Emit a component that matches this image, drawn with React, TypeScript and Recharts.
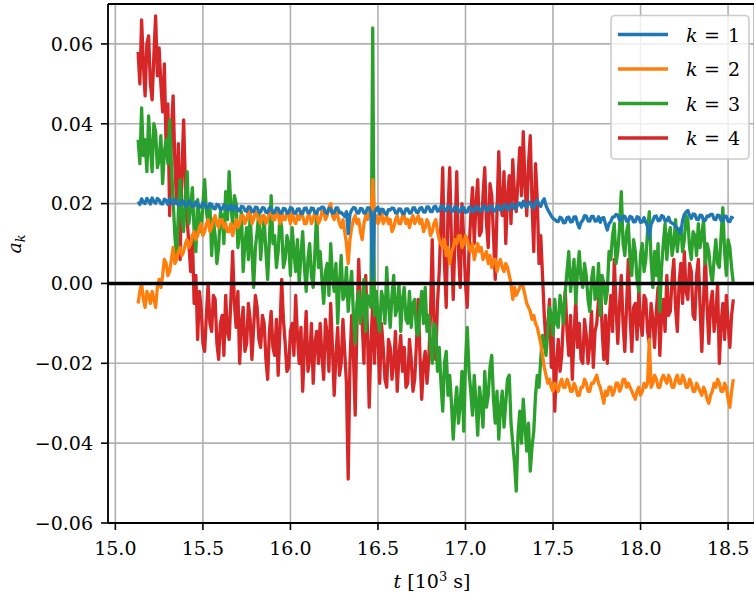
import { CartesianGrid, Customized, Line, LineChart, ReferenceLine, XAxis, YAxis } from "recharts";

// every series is sampled on the same time grid, in 10^3 s
const T0 = 15.13;
const DT = 0.01;

const X_TICKS = [15, 15.5, 16, 16.5, 17, 17.5, 18, 18.5];
const Y_TICKS = [-0.06, -0.04, -0.02, 0, 0.02, 0.04, 0.06];

const k1 = [
    0.0205, 0.0198, 0.0212, 0.0203, 0.0200, 0.0213, 0.0207, 0.0199, 0.0214, 0.0205, 0.0201, 0.0213, 0.0209, 0.0200, 0.0199, 0.0211, 0.0208, 0.0198, 0.0212, 0.0204,
    0.0199, 0.0210, 0.0206, 0.0196, 0.0198, 0.0208, 0.0205, 0.0194, 0.0196, 0.0206, 0.0204, 0.0193, 0.0194, 0.0204, 0.0201, 0.0191, 0.0192, 0.0202, 0.0200, 0.0190,
    0.0189, 0.0200, 0.0198, 0.0188, 0.0187, 0.0198, 0.0196, 0.0185, 0.0186, 0.0197, 0.0195, 0.0184, 0.0187, 0.0196, 0.0183, 0.0193, 0.0194, 0.0183, 0.0182, 0.0193,
    0.0192, 0.0183, 0.0181, 0.0192, 0.0191, 0.0180, 0.0180, 0.0191, 0.0190, 0.0179, 0.0179, 0.0190, 0.0189, 0.0178, 0.0178, 0.0189, 0.0188, 0.0177, 0.0178, 0.0189,
    0.0188, 0.0177, 0.0176, 0.0188, 0.0187, 0.0176, 0.0177, 0.0190, 0.0188, 0.0177, 0.0175, 0.0186, 0.0187, 0.0175, 0.0176, 0.0188, 0.0189, 0.0177, 0.0177, 0.0189,
    0.0188, 0.0177, 0.0175, 0.0187, 0.0186, 0.0191, 0.0190, 0.0178, 0.0176, 0.0188, 0.0187, 0.0176, 0.0177, 0.0189, 0.0189, 0.0177, 0.0178, 0.0173, 0.0168, 0.0180,
    0.0125, 0.0174, 0.0184, 0.0190, 0.0189, 0.0177, 0.0176, 0.0188, 0.0187, 0.0176, 0.0177, 0.0189, 0.0189, 0.0178, 0.0013, 0.0177, 0.0186, 0.0191, 0.0174, 0.0186,
    0.0185, 0.0175, 0.0173, 0.0185, 0.0184, 0.0189, 0.0188, 0.0177, 0.0176, 0.0187, 0.0186, 0.0175, 0.0175, 0.0187, 0.0187, 0.0176, 0.0177, 0.0189, 0.0189, 0.0178,
    0.0178, 0.0189, 0.0190, 0.0179, 0.0179, 0.0192, 0.0191, 0.0180, 0.0180, 0.0192, 0.0193, 0.0181, 0.0183, 0.0194, 0.0195, 0.0183, 0.0182, 0.0194, 0.0193, 0.0181,
    0.0181, 0.0193, 0.0192, 0.0180, 0.0180, 0.0191, 0.0190, 0.0178, 0.0179, 0.0191, 0.0191, 0.0180, 0.0181, 0.0193, 0.0192, 0.0181, 0.0182, 0.0193, 0.0194, 0.0182,
    0.0183, 0.0194, 0.0193, 0.0181, 0.0182, 0.0194, 0.0195, 0.0183, 0.0185, 0.0196, 0.0197, 0.0185, 0.0186, 0.0198, 0.0199, 0.0187, 0.0188, 0.0200, 0.0201, 0.0191,
    0.0206, 0.0195, 0.0191, 0.0204, 0.0203, 0.0192, 0.0189, 0.0202, 0.0209, 0.0198, 0.0193, 0.0206, 0.0212, 0.0195, 0.0185, 0.0177, 0.0169, 0.0163, 0.0160, 0.0156,
    0.0155, 0.0166, 0.0163, 0.0152, 0.0153, 0.0165, 0.0166, 0.0154, 0.0155, 0.0167, 0.0167, 0.0150, 0.0139, 0.0153, 0.0158, 0.0170, 0.0169, 0.0157, 0.0156, 0.0168,
    0.0168, 0.0156, 0.0157, 0.0167, 0.0153, 0.0164, 0.0165, 0.0148, 0.0134, 0.0150, 0.0155, 0.0166, 0.0167, 0.0173, 0.0171, 0.0159, 0.0157, 0.0169, 0.0168, 0.0156,
    0.0156, 0.0168, 0.0166, 0.0154, 0.0155, 0.0167, 0.0165, 0.0153, 0.0154, 0.0165, 0.0153, 0.0143, 0.0114, 0.0148, 0.0157, 0.0168, 0.0169, 0.0157, 0.0158, 0.0170,
    0.0168, 0.0156, 0.0157, 0.0166, 0.0154, 0.0151, 0.0149, 0.0143, 0.0138, 0.0131, 0.0126, 0.0158, 0.0173, 0.0179, 0.0183, 0.0170, 0.0163, 0.0174, 0.0173, 0.0161,
    0.0160, 0.0171, 0.0170, 0.0158, 0.0158, 0.0169, 0.0168, 0.0173, 0.0173, 0.0161, 0.0160, 0.0171, 0.0170, 0.0158, 0.0157, 0.0169, 0.0168, 0.0156, 0.0155, 0.0166, 0.0162,
];

const k2 = [
    -0.005, -0.002, 0.000, -0.004, -0.006, -0.002, -0.003, -0.005, -0.002, -0.004, -0.006, -0.001, 0.001, -0.001, 0.002, 0.006, 0.005, 0.002, 0.003, 0.006,
    0.009, 0.005, 0.006, 0.008, 0.009, 0.007, 0.008, 0.010, 0.011, 0.009, 0.010, 0.012, 0.013, 0.011, 0.012, 0.014, 0.015, 0.012, 0.013, 0.015,
    0.016, 0.013, 0.014, 0.016, 0.017, 0.015, 0.014, 0.016, 0.016, 0.014, 0.015, 0.013, 0.013, 0.015, 0.012, 0.014, 0.016, 0.014, 0.015, 0.017,
    0.017, 0.015, 0.016, 0.018, 0.018, 0.015, 0.016, 0.018, 0.017, 0.016, 0.015, 0.017, 0.017, 0.015, 0.016, 0.018, 0.018, 0.016, 0.016, 0.018,
    0.017, 0.015, 0.018, 0.016, 0.016, 0.018, 0.017, 0.015, 0.018, 0.016, 0.015, 0.017, 0.016, 0.018, 0.017, 0.015, 0.015, 0.017, 0.017, 0.015,
    0.016, 0.018, 0.017, 0.015, 0.016, 0.018, 0.018, 0.016, 0.017, 0.019, 0.020, 0.017, 0.016, 0.018, 0.017, 0.015, 0.014, 0.016, 0.013, 0.010,
    0.005, 0.011, 0.014, 0.016, 0.017, 0.015, 0.016, 0.013, 0.011, 0.015, 0.017, 0.016, 0.018, 0.017, 0.026, 0.016, 0.017, 0.015, 0.016, 0.018,
    0.015, 0.016, 0.017, 0.015, 0.016, 0.013, 0.014, 0.016, 0.017, 0.015, 0.015, 0.017, 0.017, 0.015, 0.016, 0.014, 0.016, 0.017, 0.015, 0.016,
    0.017, 0.015, 0.016, 0.013, 0.014, 0.016, 0.015, 0.012, 0.013, 0.015, 0.016, 0.013, 0.011, 0.010, 0.009, 0.011, 0.007, 0.009, 0.005, 0.008,
    0.009, 0.011, 0.010, 0.012, 0.012, 0.009, 0.010, 0.012, 0.011, 0.009, 0.008, 0.010, 0.006, 0.008, 0.010, 0.008, 0.009, 0.006, 0.007, 0.008,
    0.005, 0.007, 0.004, 0.006, 0.006, 0.003, 0.005, 0.006, 0.004, 0.003, 0.005, 0.004, 0.002, 0.000, -0.004, -0.001, -0.003, -0.002, -0.001, 0.000,
    -0.001, -0.003, -0.005, -0.006, -0.007, -0.009, -0.008, -0.010, -0.011, -0.013, -0.015, -0.018, -0.021, -0.023, -0.025, -0.024, -0.026, -0.027, -0.025, -0.026,
    -0.027, -0.025, -0.024, -0.026, -0.026, -0.024, -0.025, -0.027, -0.027, -0.025, -0.026, -0.028, -0.028, -0.026, -0.026, -0.024, -0.025, -0.027, -0.027, -0.025,
    -0.025, -0.024, -0.023, -0.025, -0.026, -0.028, -0.030, -0.027, -0.028, -0.026, -0.026, -0.028, -0.027, -0.025, -0.025, -0.027, -0.026, -0.024, -0.024, -0.026,
    -0.025, -0.026, -0.027, -0.028, -0.029, -0.027, -0.026, -0.028, -0.027, -0.025, -0.026, -0.025, -0.014, -0.026, -0.025, -0.023, -0.024, -0.026, -0.026, -0.024,
    -0.023, -0.024, -0.025, -0.023, -0.024, -0.026, -0.026, -0.024, -0.023, -0.025, -0.025, -0.023, -0.024, -0.026, -0.026, -0.024, -0.025, -0.027, -0.027, -0.025,
    -0.026, -0.027, -0.028, -0.026, -0.027, -0.029, -0.030, -0.028, -0.027, -0.025, -0.026, -0.024, -0.025, -0.027, -0.027, -0.025, -0.026, -0.029, -0.031, -0.027, -0.024,
];

const k3 = [
    0.036, 0.030, 0.044, 0.032, 0.036, 0.028, 0.042, 0.034, 0.028, 0.040, 0.038, 0.029, 0.031, 0.037, 0.025, 0.033, 0.036, 0.030, 0.041, 0.030,
    0.021, 0.012, 0.006, 0.018, 0.026, 0.016, 0.013, 0.022, 0.028, 0.015, 0.019, 0.024, 0.013, 0.008, 0.021, 0.016, 0.013, 0.020, 0.026, 0.018,
    0.015, 0.020, 0.007, 0.016, 0.012, 0.005, 0.009, 0.018, 0.017, 0.010, 0.023, 0.016, 0.028, 0.019, 0.015, 0.022, 0.020, 0.009, 0.013, 0.018,
    0.003, 0.010, 0.014, 0.006, 0.017, 0.008, -0.001, 0.009, 0.013, 0.018, 0.006, 0.012, 0.016, 0.008, 0.001, 0.011, 0.022, 0.010, 0.012, 0.004,
    0.008, 0.017, 0.014, 0.004, 0.006, 0.012, 0.010, 0.002, 0.014, 0.008, 0.003, 0.011, 0.000, 0.007, 0.013, 0.004, -0.002, 0.006, 0.010, 0.002,
    -0.001, 0.008, 0.018, 0.004, 0.008, 0.001, -0.005, 0.003, 0.005, -0.003, 0.010, 0.002, -0.002, 0.005, -0.010, 0.000, 0.007, -0.004, -0.003, 0.004,
    -0.007, -0.001, 0.003, -0.008, -0.015, -0.005, -0.002, -0.010, -0.006, 0.001, -0.012, -0.003, -0.004, -0.006, 0.064, -0.008, -0.002, -0.009, -0.012, -0.002,
    -0.004, -0.010, 0.004, -0.005, -0.011, -0.003, 0.002, -0.008, -0.006, 0.000, -0.012, -0.004, -0.001, -0.009, -0.010, -0.002, -0.011, -0.005, -0.004, -0.012,
    -0.013, -0.006, -0.002, -0.010, -0.001, -0.012, -0.008, -0.016, -0.020, -0.010, -0.011, -0.022, -0.016, -0.025, -0.032, -0.020, -0.017, -0.028, -0.023, -0.030,
    -0.039, -0.031, -0.026, -0.035, -0.030, -0.022, -0.037, -0.020, -0.011, -0.022, -0.027, -0.033, -0.023, -0.030, -0.038, -0.026, -0.030, -0.036, -0.022, -0.031,
    -0.028, -0.021, -0.018, -0.029, -0.035, -0.027, -0.039, -0.031, -0.027, -0.036, -0.030, -0.024, -0.023, -0.035, -0.040, -0.045, -0.052, -0.038, -0.032, -0.040,
    -0.029, -0.036, -0.042, -0.035, -0.047, -0.041, -0.037, -0.028, -0.023, -0.026, -0.019, -0.013, -0.015, -0.018, -0.012, -0.006, -0.008, -0.013, -0.004, -0.010,
    -0.011, -0.003, -0.006, -0.010, -0.002, 0.003, 0.008, -0.002, 0.002, 0.006, -0.005, 0.003, 0.008, 0.001, -0.001, 0.005, 0.002, -0.004, -0.007, 0.001,
    0.004, -0.004, -0.003, 0.005, -0.008, 0.002, 0.000, -0.005, -0.002, 0.008, 0.006, 0.012, 0.015, 0.005, 0.008, 0.014, 0.023, 0.010, 0.007, 0.013,
    0.015, 0.006, 0.002, 0.011, 0.008, 0.001, -0.002, 0.007, 0.010, 0.003, 0.006, 0.013, 0.018, 0.006, -0.001, 0.008, 0.002, 0.010, -0.007, 0.004,
    0.010, 0.015, 0.006, 0.012, 0.014, 0.007, 0.010, 0.016, 0.008, 0.013, 0.014, 0.008, 0.011, 0.017, 0.016, 0.009, 0.006, 0.013, 0.012, 0.007,
    0.015, 0.009, 0.012, 0.016, 0.005, 0.010, 0.008, 0.003, 0.000, 0.006, 0.011, 0.005, 0.004, 0.012, 0.019, 0.008, 0.002, 0.011, 0.009, 0.004, 0.000,
];

const k4 = [
    0.058, 0.050, 0.066, 0.055, 0.047, 0.060, 0.062, 0.050, 0.046, 0.057, 0.067, 0.052, 0.059, 0.050, 0.043, 0.055, 0.034, 0.045, 0.017, 0.038,
    0.047, 0.030, 0.020, 0.035, 0.006, 0.028, 0.041, 0.025, 0.016, 0.010, 0.003, 0.012, -0.005, 0.002, -0.014, -0.002, -0.006, -0.015, -0.017, -0.008,
    0.000, -0.010, -0.012, -0.003, -0.004, -0.015, -0.019, -0.010, -0.008, -0.018, -0.003, -0.012, -0.014, -0.004, 0.008, -0.005, -0.011, -0.002, -0.020, -0.010,
    -0.006, -0.017, -0.015, -0.005, -0.009, -0.019, -0.011, -0.003, -0.006, -0.014, -0.016, -0.008, -0.010, -0.019, -0.024, -0.012, -0.007, -0.016, -0.018, -0.009,
    -0.023, -0.012, 0.001, -0.009, -0.015, -0.022, -0.021, -0.012, -0.010, -0.018, -0.003, -0.013, -0.020, -0.011, -0.027, -0.016, -0.007, -0.022, -0.019, -0.010,
    -0.025, -0.015, -0.012, -0.020, -0.010, -0.018, -0.024, -0.009, -0.013, -0.022, -0.005, -0.016, -0.028, -0.018, -0.011, -0.023, -0.020, -0.009, -0.017, -0.025,
    -0.049, -0.020, -0.008, -0.018, -0.033, -0.010, 0.006, -0.006, -0.010, -0.020, 0.002, -0.012, -0.031, -0.015, -0.005, -0.020, -0.002, -0.014, -0.025, -0.010,
    -0.016, -0.024, -0.026, -0.014, -0.016, -0.024, -0.020, -0.012, -0.027, -0.018, -0.013, -0.022, -0.016, -0.026, -0.025, -0.014, -0.019, -0.027, -0.024, -0.015,
    -0.004, -0.018, -0.029, -0.020, -0.017, -0.025, -0.019, -0.008, 0.011, -0.010, -0.019, -0.005, 0.003, 0.015, 0.029, 0.005, -0.006, 0.018, 0.029, 0.010,
    -0.004, 0.012, 0.028, 0.008, -0.001, 0.020, 0.011, 0.000, -0.006, 0.008, 0.017, 0.024, 0.010, 0.020, 0.026, 0.012, 0.013, 0.022, 0.029, 0.015,
    0.009, 0.025, 0.022, 0.012, 0.001, 0.018, 0.033, 0.020, 0.017, 0.028, 0.010, 0.022, 0.027, 0.015, 0.031, 0.022, 0.018, 0.026, 0.034, 0.022,
    0.038, 0.025, 0.017, 0.030, 0.037, 0.020, 0.008, 0.030, 0.021, 0.005, 0.012, 0.002, -0.008, -0.015, -0.011, -0.004, -0.021, -0.012, -0.032, -0.020,
    -0.014, -0.022, -0.018, -0.008, -0.002, -0.012, -0.018, -0.008, -0.024, -0.013, -0.004, -0.016, -0.010, -0.019, -0.020, -0.009, -0.013, -0.020, -0.015, -0.007,
    -0.021, -0.012, -0.010, -0.004, 0.002, -0.011, -0.019, -0.008, -0.020, -0.010, -0.003, -0.012, 0.006, -0.006, -0.015, -0.005, 0.002, -0.010, -0.017, -0.006,
    0.006, -0.008, -0.017, -0.006, -0.005, -0.014, -0.002, -0.010, -0.013, -0.003, -0.004, -0.012, -0.015, -0.005, -0.009, -0.016, -0.007, -0.001, -0.018, -0.008,
    -0.004, -0.012, 0.002, -0.008, -0.007, 0.001, 0.006, -0.006, -0.012, 0.000, 0.005, -0.005, 0.008, -0.002, -0.004, 0.005, 0.003, -0.008, -0.009, 0.002,
    0.006, -0.006, -0.017, -0.004, 0.008, -0.006, -0.015, -0.005, -0.002, -0.012, -0.008, 0.000, -0.020, -0.010, -0.005, -0.014, -0.003, -0.010, -0.016, -0.008, -0.004,
];

const toPoints = (values: number[]) => values.map((v, i) => ({ t: +(T0 + i * DT).toFixed(2), v }));

const FONT = "DejaVu Serif";
const FS = 19;
const COLORS = { k1: "#1f77b4", k2: "#ff7f0e", k3: "#2ca02c", k4: "#d62728" };

// drawn back to front: k = 4 lowest, k = 1 on top
const SERIES = [
    { key: "k4", values: k4, color: COLORS.k4 },
    { key: "k3", values: k3, color: COLORS.k3 },
    { key: "k2", values: k2, color: COLORS.k2 },
    { key: "k1", values: k1, color: COLORS.k1 },
];

const LEGEND = [
    { label: "1", color: COLORS.k1 },
    { label: "2", color: COLORS.k2 },
    { label: "3", color: COLORS.k3 },
    { label: "4", color: COLORS.k4 },
];

const formatY = (v: number) => (v < 0 ? "\u2212" : "") + Math.abs(v).toFixed(2);

function Decorations() {
    const txt = { fontFamily: FONT };
    return (
        <g fill="#000">
            {/* axis titles */}
            <text x={432} y={588} textAnchor="middle" fontSize={FS} style={txt}>
                <tspan fontStyle="italic">t</tspan>
                <tspan> [10</tspan>
                <tspan fontSize={13} dy={-7}>3</tspan>
                <tspan dy={7}> s]</tspan>
            </text>
            <text transform="translate(21,244) rotate(-90)" textAnchor="middle" fontSize={FS} style={txt}>
                <tspan fontStyle="italic">a</tspan>
                <tspan fontStyle="italic" fontSize={13} dy={4}>k</tspan>
            </text>

            {/* legend */}
            <rect x={611} y={15.5} width={138} height={143.5} rx={4} fill="#fff" fillOpacity={0.8} stroke="#cccccc" strokeWidth={1.6} />
            {LEGEND.map((item, i) => {
                const y = 34.5 + i * 34.5;
                return (
                    <g key={item.label}>
                        <line x1={618} x2={668} y1={y} y2={y} stroke={item.color} strokeWidth={3.3} />
                        <text x={686} y={y + 7} fontSize={FS} fontStyle="italic" style={txt}>k</text>
                        <text x={712} y={y + 7} fontSize={FS} textAnchor="middle" style={txt}>=</text>
                        <text x={734} y={y + 7} fontSize={FS} textAnchor="middle" style={txt}>{item.label}</text>
                    </g>
                );
            })}
        </g>
    );
}

export default function App() {
    const tick = { fill: "#000", fontSize: FS, style: { fontFamily: FONT } };
    const spine = { stroke: "#000", strokeWidth: 1.8 };
    const tickLine = { stroke: "#000", strokeWidth: 1.6 };

    return (
        <div style={{ position: "absolute", left: 0, top: 0, width: 754, height: 596, background: "#fff" }}>
            <LineChart width={754} height={596} margin={{ top: 4, right: 0, bottom: 0, left: 0 }}>
                <CartesianGrid stroke="#b0b0b0" strokeWidth={1.6} />
                <XAxis
                    type="number"
                    dataKey="t"
                    domain={[14.958, 18.648]}
                    ticks={X_TICKS}
                    interval={0}
                    allowDataOverflow
                    tickFormatter={(v: number) => v.toFixed(1)}
                    height={73}
                    axisLine={spine}
                    tickLine={tickLine}
                    tickSize={7}
                    tickMargin={12}
                    tick={tick}
                />
                <YAxis
                    type="number"
                    domain={[-0.06, 0.07]}
                    ticks={Y_TICKS}
                    interval={0}
                    allowDataOverflow
                    tickFormatter={formatY}
                    width={108}
                    axisLine={spine}
                    tickLine={tickLine}
                    tickSize={7}
                    tickMargin={8}
                    tick={tick}
                />
                {SERIES.map((s) => (
                    <Line
                        key={s.key}
                        data={toPoints(s.values)}
                        dataKey="v"
                        stroke={s.color}
                        strokeWidth={3.3}
                        strokeLinejoin="round"
                        dot={false}
                        activeDot={false}
                        isAnimationActive={false}
                    />
                ))}
                <ReferenceLine y={0} stroke="#000" strokeWidth={3.5} />
                <ReferenceLine y={0.07} stroke="#000" strokeWidth={1.8} />
                <Customized component={Decorations} />
            </LineChart>
        </div>
    );
}
